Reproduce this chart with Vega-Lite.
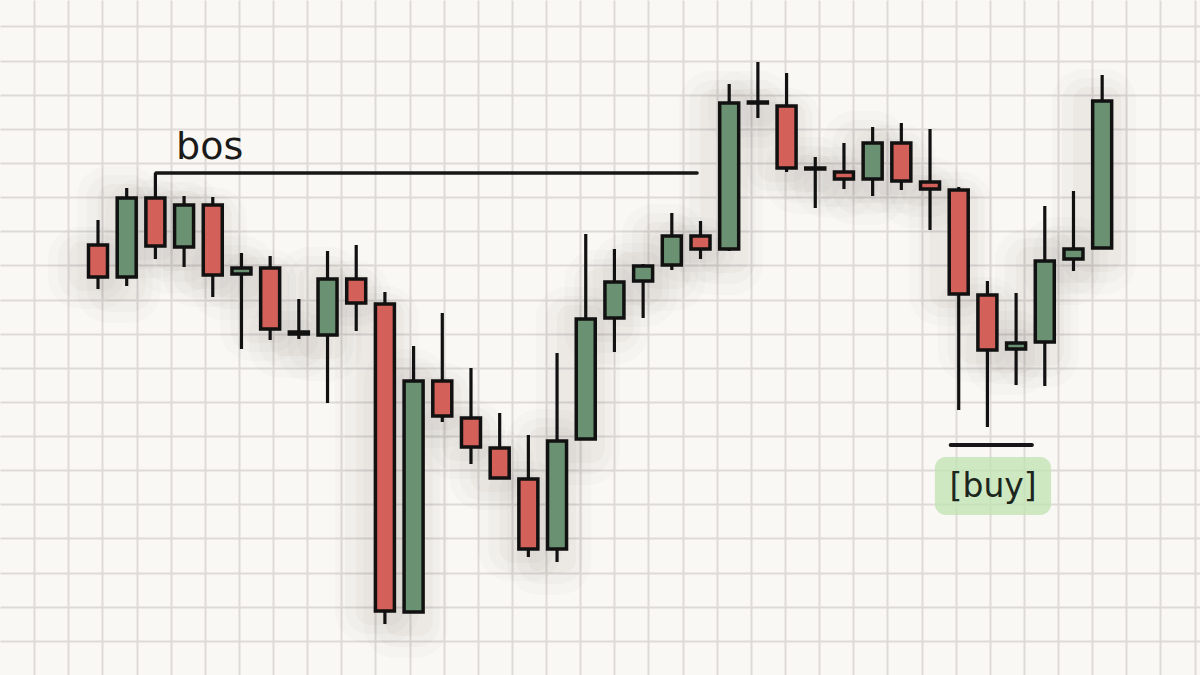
{
  "$schema": "https://vega.github.io/schema/vega-lite/v6.json",
  "width": 1200,
  "height": 675,
  "padding": 0,
  "autosize": {"type": "fit", "contains": "padding"},
  "background": "#faf8f4",
  "config": {
    "view": {"stroke": null},
    "axisX": {
      "labels": false, "ticks": false, "domain": false, "title": null,
      "grid": true, "gridColor": "#dedad8", "gridWidth": 2
    },
    "axisY": {
      "labels": false, "ticks": false, "domain": false, "title": null,
      "grid": true, "gridColor": "#dedad8", "gridWidth": 2
    }
  },
  "datasets": {
    "candles": [
      {"t": 0, "open": 430, "high": 455, "low": 386, "close": 398},
      {"t": 1, "open": 398, "high": 487, "low": 389, "close": 477},
      {"t": 2, "open": 477, "high": 502, "low": 416, "close": 429},
      {"t": 3, "open": 428, "high": 479, "low": 408, "close": 470},
      {"t": 4, "open": 470, "high": 478, "low": 378, "close": 400},
      {"t": 5, "open": 401, "high": 422, "low": 326, "close": 407},
      {"t": 6, "open": 407, "high": 419, "low": 335, "close": 346},
      {"t": 7, "open": 343, "high": 376, "low": 336, "close": 341},
      {"t": 8, "open": 340, "high": 424, "low": 272, "close": 396},
      {"t": 9, "open": 396, "high": 430, "low": 344, "close": 372},
      {"t": 10, "open": 371, "high": 383, "low": 51, "close": 64},
      {"t": 11, "open": 63, "high": 329, "low": 62, "close": 294},
      {"t": 12, "open": 294, "high": 362, "low": 253, "close": 259},
      {"t": 13, "open": 257, "high": 307, "low": 211, "close": 228},
      {"t": 14, "open": 227, "high": 262, "low": 196, "close": 197},
      {"t": 15, "open": 196, "high": 240, "low": 118, "close": 126},
      {"t": 16, "open": 126, "high": 322, "low": 113, "close": 234},
      {"t": 17, "open": 236, "high": 441, "low": 236, "close": 356},
      {"t": 18, "open": 357, "high": 426, "low": 323, "close": 393},
      {"t": 19, "open": 394, "high": 411, "low": 357, "close": 409},
      {"t": 20, "open": 410, "high": 462, "low": 405, "close": 439},
      {"t": 21, "open": 439, "high": 454, "low": 416, "close": 426},
      {"t": 22, "open": 426, "high": 591, "low": 424, "close": 572},
      {"t": 23, "open": 573, "high": 613, "low": 557, "close": 572},
      {"t": 24, "open": 569, "high": 602, "low": 503, "close": 507},
      {"t": 25, "open": 507, "high": 518, "low": 467, "close": 506},
      {"t": 26, "open": 503, "high": 532, "low": 486, "close": 496},
      {"t": 27, "open": 496, "high": 548, "low": 479, "close": 532},
      {"t": 28, "open": 532, "high": 552, "low": 485, "close": 494},
      {"t": 29, "open": 493, "high": 546, "low": 445, "close": 486},
      {"t": 30, "open": 485, "high": 488, "low": 265, "close": 381},
      {"t": 31, "open": 380, "high": 394, "low": 248, "close": 325},
      {"t": 32, "open": 326, "high": 382, "low": 290, "close": 332},
      {"t": 33, "open": 333, "high": 469, "low": 289, "close": 414},
      {"t": 34, "open": 416, "high": 484, "low": 404, "close": 426},
      {"t": 35, "open": 427, "high": 600, "low": 427, "close": 574}
    ]
  },
  "encoding": {
    "x": {
      "type": "quantitative",
      "scale": {"domain": [-3.416, 38.41], "nice": false, "zero": false, "padding": 0},
      "axis": {
        "values": [-2.2262, -1.0366, 0.153, 1.3427, 2.5323, 3.7219, 4.9115, 6.1012, 7.2908, 8.4804, 9.67, 10.8596, 12.0493, 13.2389, 14.4285, 15.6181, 16.8078, 17.9974, 19.187, 20.3766, 21.5662, 22.7559, 23.9455, 25.1351, 26.3247, 27.5144, 28.704, 29.8936, 31.0832, 32.2729, 33.4625, 34.6521, 35.8417, 37.0313, 38.221]
      }
    },
    "y": {
      "type": "quantitative",
      "scale": {"domain": [0, 675], "nice": false, "zero": false, "padding": 0},
      "axis": {
        "values": [648.5, 614.37, 580.24, 546.11, 511.98, 477.85, 443.72, 409.59, 375.46, 341.33, 307.2, 273.07, 238.94, 204.81, 170.68, 136.55, 102.42, 68.29, 34.16]
      }
    }
  },
  "layer": [
    {
      "data": {"name": "candles"},
      "mark": {"type": "bar", "size": 20, "fillOpacity": 0, "stroke": "#3a3026", "strokeOpacity": 0.018, "strokeWidth": 64, "strokeJoin": "round", "xOffset": -8, "yOffset": 14},
      "encoding": {"x": {"field": "t"}, "y": {"field": "open"}, "y2": {"field": "close"}}
    },
    {
      "data": {"name": "candles"},
      "mark": {"type": "bar", "size": 20, "fillOpacity": 0, "stroke": "#3a3026", "strokeOpacity": 0.022, "strokeWidth": 46, "strokeJoin": "round", "xOffset": -7, "yOffset": 12},
      "encoding": {"x": {"field": "t"}, "y": {"field": "open"}, "y2": {"field": "close"}}
    },
    {
      "data": {"name": "candles"},
      "mark": {"type": "bar", "size": 20, "fillOpacity": 0, "stroke": "#3a3026", "strokeOpacity": 0.028, "strokeWidth": 28, "strokeJoin": "round", "xOffset": -5, "yOffset": 10},
      "encoding": {"x": {"field": "t"}, "y": {"field": "open"}, "y2": {"field": "close"}}
    },
    {
      "data": {"name": "candles"},
      "mark": {"type": "rule", "strokeWidth": 3.2, "color": "#111111"},
      "encoding": {"x": {"field": "t"}, "y": {"field": "low"}, "y2": {"field": "high"}}
    },
    {
      "data": {"name": "candles"},
      "mark": {"type": "bar", "size": 19, "stroke": "#111111", "strokeWidth": 3.5},
      "encoding": {
        "x": {"field": "t"},
        "y": {"field": "open"},
        "y2": {"field": "close"},
        "color": {
          "condition": {"test": "datum.close >= datum.open", "value": "#6a9272"},
          "value": "#d4605a"
        }
      }
    },
    {
      "data": {"values": [{"t": 2.02, "t2": 20.88, "p": 502}]},
      "mark": {"type": "rule", "strokeWidth": 3.5, "color": "#161616", "strokeCap": "round"},
      "encoding": {"x": {"field": "t"}, "x2": {"field": "t2"}, "y": {"field": "p"}}
    },
    {
      "data": {"values": [{"t": 2.72, "p": 516, "label": "bos"}]},
      "mark": {"type": "text", "font": "DejaVu Sans", "fontSize": 38, "align": "left", "baseline": "alphabetic", "color": "#1a1a1a"},
      "encoding": {"x": {"field": "t"}, "y": {"field": "p"}, "text": {"field": "label"}}
    },
    {
      "data": {"values": [{"t": 29.17, "t2": 33.22, "p": 218, "p2": 160}]},
      "mark": {"type": "rect", "color": "#bfe3b2", "opacity": 0.75, "cornerRadius": 11},
      "encoding": {"x": {"field": "t"}, "x2": {"field": "t2"}, "y": {"field": "p"}, "y2": {"field": "p2"}}
    },
    {
      "data": {"values": [{"t": 29.72, "t2": 32.55, "p": 230}]},
      "mark": {"type": "rule", "strokeWidth": 4, "color": "#161616", "strokeCap": "round"},
      "encoding": {"x": {"field": "t"}, "x2": {"field": "t2"}, "y": {"field": "p"}}
    },
    {
      "data": {"values": [{"t": 31.2, "p": 188, "label": "[buy]"}]},
      "mark": {"type": "text", "font": "DejaVu Sans", "fontSize": 33, "align": "center", "baseline": "middle", "color": "#1c261c"},
      "encoding": {"x": {"field": "t"}, "y": {"field": "p"}, "text": {"field": "label"}}
    }
  ]
}
